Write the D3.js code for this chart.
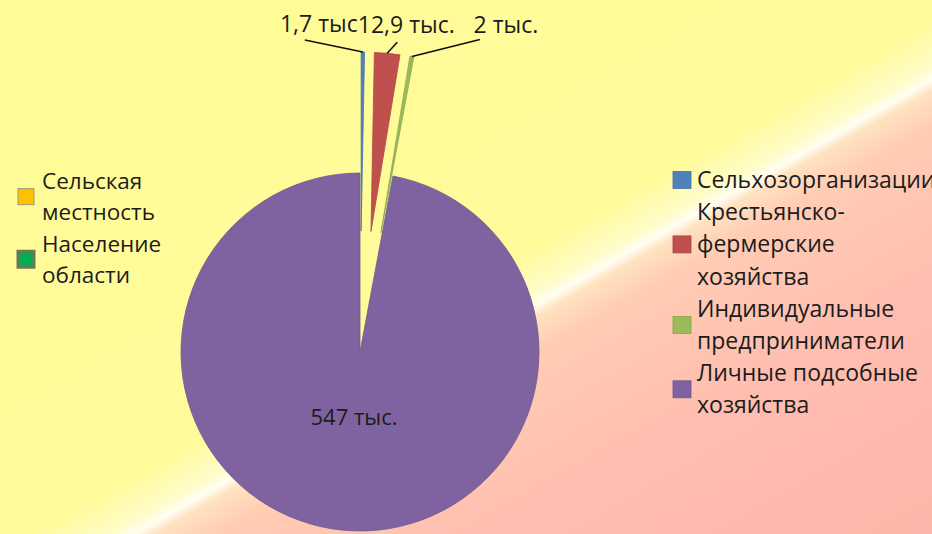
<html>
<head>
<meta charset="utf-8">
<script src="https://d3js.org/d3.v7.min.js"></script>
<style>
	body{margin:0;overflow:hidden;}
	text{font-family:"Open Sans",sans-serif;fill:#1c1c1c;}
</style>
</head>
<body>
<script>
var w = 932, h = 534;

// данные
var categories = ["Сельхозорганизации", "Крестьянско-фермерские хозяйства", "Индивидуальные предприниматели", "Личные подсобные хозяйства"];
var values = [1.7, 12.9, 2, 547];
var valueLabels = ["1,7 тыс", "12,9 тыс.", "2 тыс.", "547 тыс."];
var legendLines = [["Сельхозорганизации"], ["Крестьянско-", "фермерские", "хозяйства"], ["Индивидуальные", "предприниматели"], ["Личные подсобные", "хозяйства"]];
var otherSeries = ["Сельская местность", "Население области"];
var otherLines = [["Сельская", "местность"], ["Население", "области"]];

var colors = ["#4F81BD", "#C0504D", "#9BBB59", "#7F63A1"];
var otherColors = ["#FFC000", "#00B050"];
var otherBorders = ["#9a9a7a", "#6b7a52"];

var cx = 360, cy = 352, r = 179;
var explode = [121, 121, 121, 0];
// смещения выносок: [dx, dy] конца линии и [dx, dy] подписи от конца линии
var leaderShift = [[-58, -12], [10, -11], [68, -17]];
var textShift = [[14, -8], [9, -9], [26, -7]];

var svg = d3.select("body").append("svg")
	.attr("width", w)
	.attr("height", h);

// фон
var grad = svg.append("defs").append("linearGradient")
	.attr("id", "bg")
	.attr("gradientUnits", "userSpaceOnUse")
	.attr("x1", 533 - 0.495 * 420).attr("y1", 307 - 0.869 * 420)
	.attr("x2", 533 + 0.495 * 420).attr("y2", 307 + 0.869 * 420);
[[0, "#FFFC97"], [0.44, "#FFFB9B"], [0.485, "#FFFCC8"], [0.5, "#FFFEF2"], [0.512, "#FFE2C0"], [0.55, "#FFCCB4"], [0.72, "#FFBDB0"], [1, "#FFB5A9"]]
	.forEach(function(s){
		grad.append("stop").attr("offset", s[0]).attr("stop-color", s[1]);
	});
svg.append("rect").attr("width", w).attr("height", h).attr("fill", "url(#bg)");

var pie = d3.pie().sort(null).value(function(d){ return d; });
var arcs = pie(values);
var arc = d3.arc().innerRadius(0).outerRadius(r);

function shift(d, i, dist){
	var a = (d.startAngle + d.endAngle) / 2;
	return [Math.sin(a) * dist, -Math.cos(a) * dist];
}

var g = svg.append("g").attr("transform", "translate(" + cx + "," + cy + ")");

g.selectAll("path.slice")
	.data(arcs)
	.enter()
	.append("path")
	.attr("class", "slice")
	.attr("d", arc)
	.attr("transform", function(d, i){
		var s = shift(d, i, explode[i]);
		return "translate(" + s[0] + "," + s[1] + ")";
	})
	.attr("fill", function(d, i){ return colors[i]; })
	.attr("stroke", function(d, i){ return d3.color(colors[i]).darker(0.3); })
	.attr("stroke-width", 0.8);

// подписи малых секторов с выносками
arcs.slice(0, 3).forEach(function(d, i){
	var p = shift(d, i, explode[i] + r);
	var e = [p[0] + leaderShift[i][0], p[1] + leaderShift[i][1]];
	g.append("line")
		.attr("x1", p[0]).attr("y1", p[1])
		.attr("x2", e[0]).attr("y2", e[1])
		.attr("stroke", "#111")
		.attr("stroke-width", 1.6);
	g.append("text")
		.attr("x", e[0] + textShift[i][0])
		.attr("y", e[1] + textShift[i][1])
		.attr("text-anchor", "middle")
		.attr("font-size", "23px")
		.text(valueLabels[i]);
});

// подпись большого сектора
var big = arcs[3];
var bp = shift(big, 3, r * 0.36);
g.append("text")
	.attr("x", bp[0]).attr("y", bp[1])
	.attr("text-anchor", "middle")
	.attr("dominant-baseline", "central")
	.attr("font-size", "22px")
	.text(valueLabels[3]);

// легенда справа
var lh = 32.2, ly = 188, row = 0;
legendLines.forEach(function(lines, i){
	var top = ly + row * lh;
	var mid = top - 8 + (lines.length - 1) * lh / 2;
	svg.append("rect")
		.attr("x", 673).attr("y", mid - 8.5)
		.attr("width", 18).attr("height", 17)
		.attr("fill", colors[i])
		.attr("stroke", d3.color(colors[i]).darker(0.4))
		.attr("stroke-width", 0.8);
	lines.forEach(function(t, j){
		svg.append("text")
			.attr("x", 697).attr("y", top + j * lh)
			.attr("font-size", "23px")
			.text(t);
	});
	row += lines.length;
});

// легенда слева
var lh2 = 31.3, ly2 = 189;
otherLines.forEach(function(lines, i){
	var top = ly2 + i * 2 * lh2;
	var mid = top - 8 + lh2 / 2;
	svg.append("rect")
		.attr("x", 18).attr("y", mid - 8)
		.attr("width", 16).attr("height", 16)
		.attr("fill", otherColors[i])
		.attr("stroke", otherBorders[i])
		.attr("stroke-width", i == 1 ? 3 : 1);
	lines.forEach(function(t, j){
		svg.append("text")
			.attr("x", 42).attr("y", top + j * lh2)
			.attr("font-size", "22.5px")
			.text(t);
	});
});
</script>
</body>
</html>
